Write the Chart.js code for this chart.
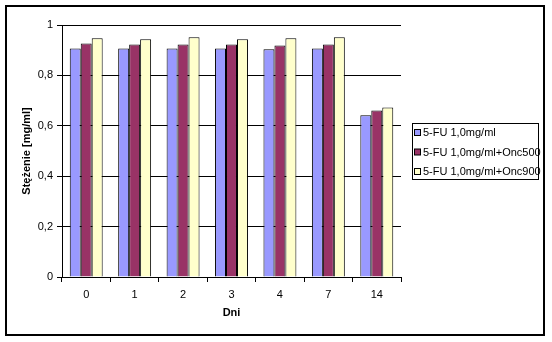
<!DOCTYPE html>
<html>
<head>
<meta charset="utf-8">
<script src="https://cdn.jsdelivr.net/npm/chart.js@4/dist/chart.umd.min.js"></script>
<style>
  html, body { margin: 0; padding: 0; background: #fff; }
  #wrap { width: 552px; height: 342px; position: relative; }
</style>
</head>
<body>
<div id="wrap"><canvas id="myChart"></canvas></div>
<script>
// data
var days = ['0', '1', '2', '3', '4', '7', '14'];
var seriesNames = ['5-FU 1,0mg/ml', '5-FU 1,0mg/ml+Onc500', '5-FU 1,0mg/ml+Onc900'];
var fu = [0.907, 0.907, 0.907, 0.907, 0.904, 0.907, 0.642];
var onc500 = [0.927, 0.923, 0.923, 0.923, 0.919, 0.923, 0.661];
var onc900 = [0.947, 0.943, 0.951, 0.943, 0.947, 0.951, 0.673];
var yTickLabels = ['0', '0,2', '0,4', '0,6', '0,8', '1'];

var colors = ['#9999FF', '#993366', '#FFFFCC'];

Chart.defaults.font.family = "'Liberation Sans', Arial, sans-serif";
Chart.defaults.font.size = 11;
Chart.defaults.color = '#000';

// outer frame + boxed legend on the right
var frameAndLegend = {
    id: 'frameAndLegend',
    afterDraw: function(chart) {
        var ctx = chart.ctx;
        ctx.save();
        ctx.strokeStyle = '#000';
        ctx.lineWidth = 2;
        ctx.strokeRect(6, 6, 538, 329);

        ctx.lineWidth = 1;
        ctx.strokeRect(412.5, 123.5, 126, 56);
        ctx.font = "11px 'Liberation Sans', Arial, sans-serif";
        ctx.textBaseline = 'middle';
        ctx.textAlign = 'left';
        chart.data.datasets.forEach(function(ds, i) {
            var y = 133 + i * 19.5;
            ctx.fillStyle = ds.backgroundColor;
            ctx.fillRect(414.5, y - 3.5, 6, 6);
            ctx.strokeRect(414.5, y - 3.5, 6, 6);
            ctx.fillStyle = '#000';
            ctx.fillText(ds.label, 423, y);
        });
        ctx.restore();
    }
};

var ctx = document.querySelector('#myChart').getContext('2d');
var myChart = new Chart(ctx, {
    type: 'bar',
    data: {
        labels: days,
        datasets: [fu, onc500, onc900].map(function(vals, i) {
            return {
                label: seriesNames[i],
                data: vals,
                backgroundColor: colors[i],
                borderColor: '#000',
                borderWidth: 1
            };
        })
    },
    options: {
        responsive: true,
        maintainAspectRatio: false,
        animation: false,
        layout: { padding: { left: 0, right: 151, top: 25, bottom: 0 } },
        plugins: {
            legend: { display: false },
            tooltip: { enabled: false }
        },
        datasets: {
            bar: { categoryPercentage: 0.68, barPercentage: 1 }
        },
        scales: {
            x: {
                afterFit: function(scale) { scale.height = 65; },
                grid: {
                    drawOnChartArea: false,
                    color: '#000',
                    tickLength: 5
                },
                border: { color: '#000' },
                ticks: { padding: 6, maxRotation: 0 },
                title: {
                    display: true,
                    text: 'Dni',
                    font: { weight: 'bold', size: 11 },
                    padding: { top: 0, bottom: 22 }
                }
            },
            y: {
                min: 0,
                max: 1,
                afterFit: function(scale) { scale.width = 62; },
                grid: {
                    color: '#000',
                    tickLength: 5
                },
                border: { color: '#000' },
                ticks: {
                    stepSize: 0.2,
                    padding: 4,
                    callback: function(v, i) { return yTickLabels[i]; }
                },
                title: {
                    display: true,
                    text: 'Stężenie [mg/ml]',
                    font: { weight: 'bold', size: 11 },
                    padding: { top: 20, bottom: 0 }
                }
            }
        }
    },
    plugins: [frameAndLegend]
});
</script>
</body>
</html>
